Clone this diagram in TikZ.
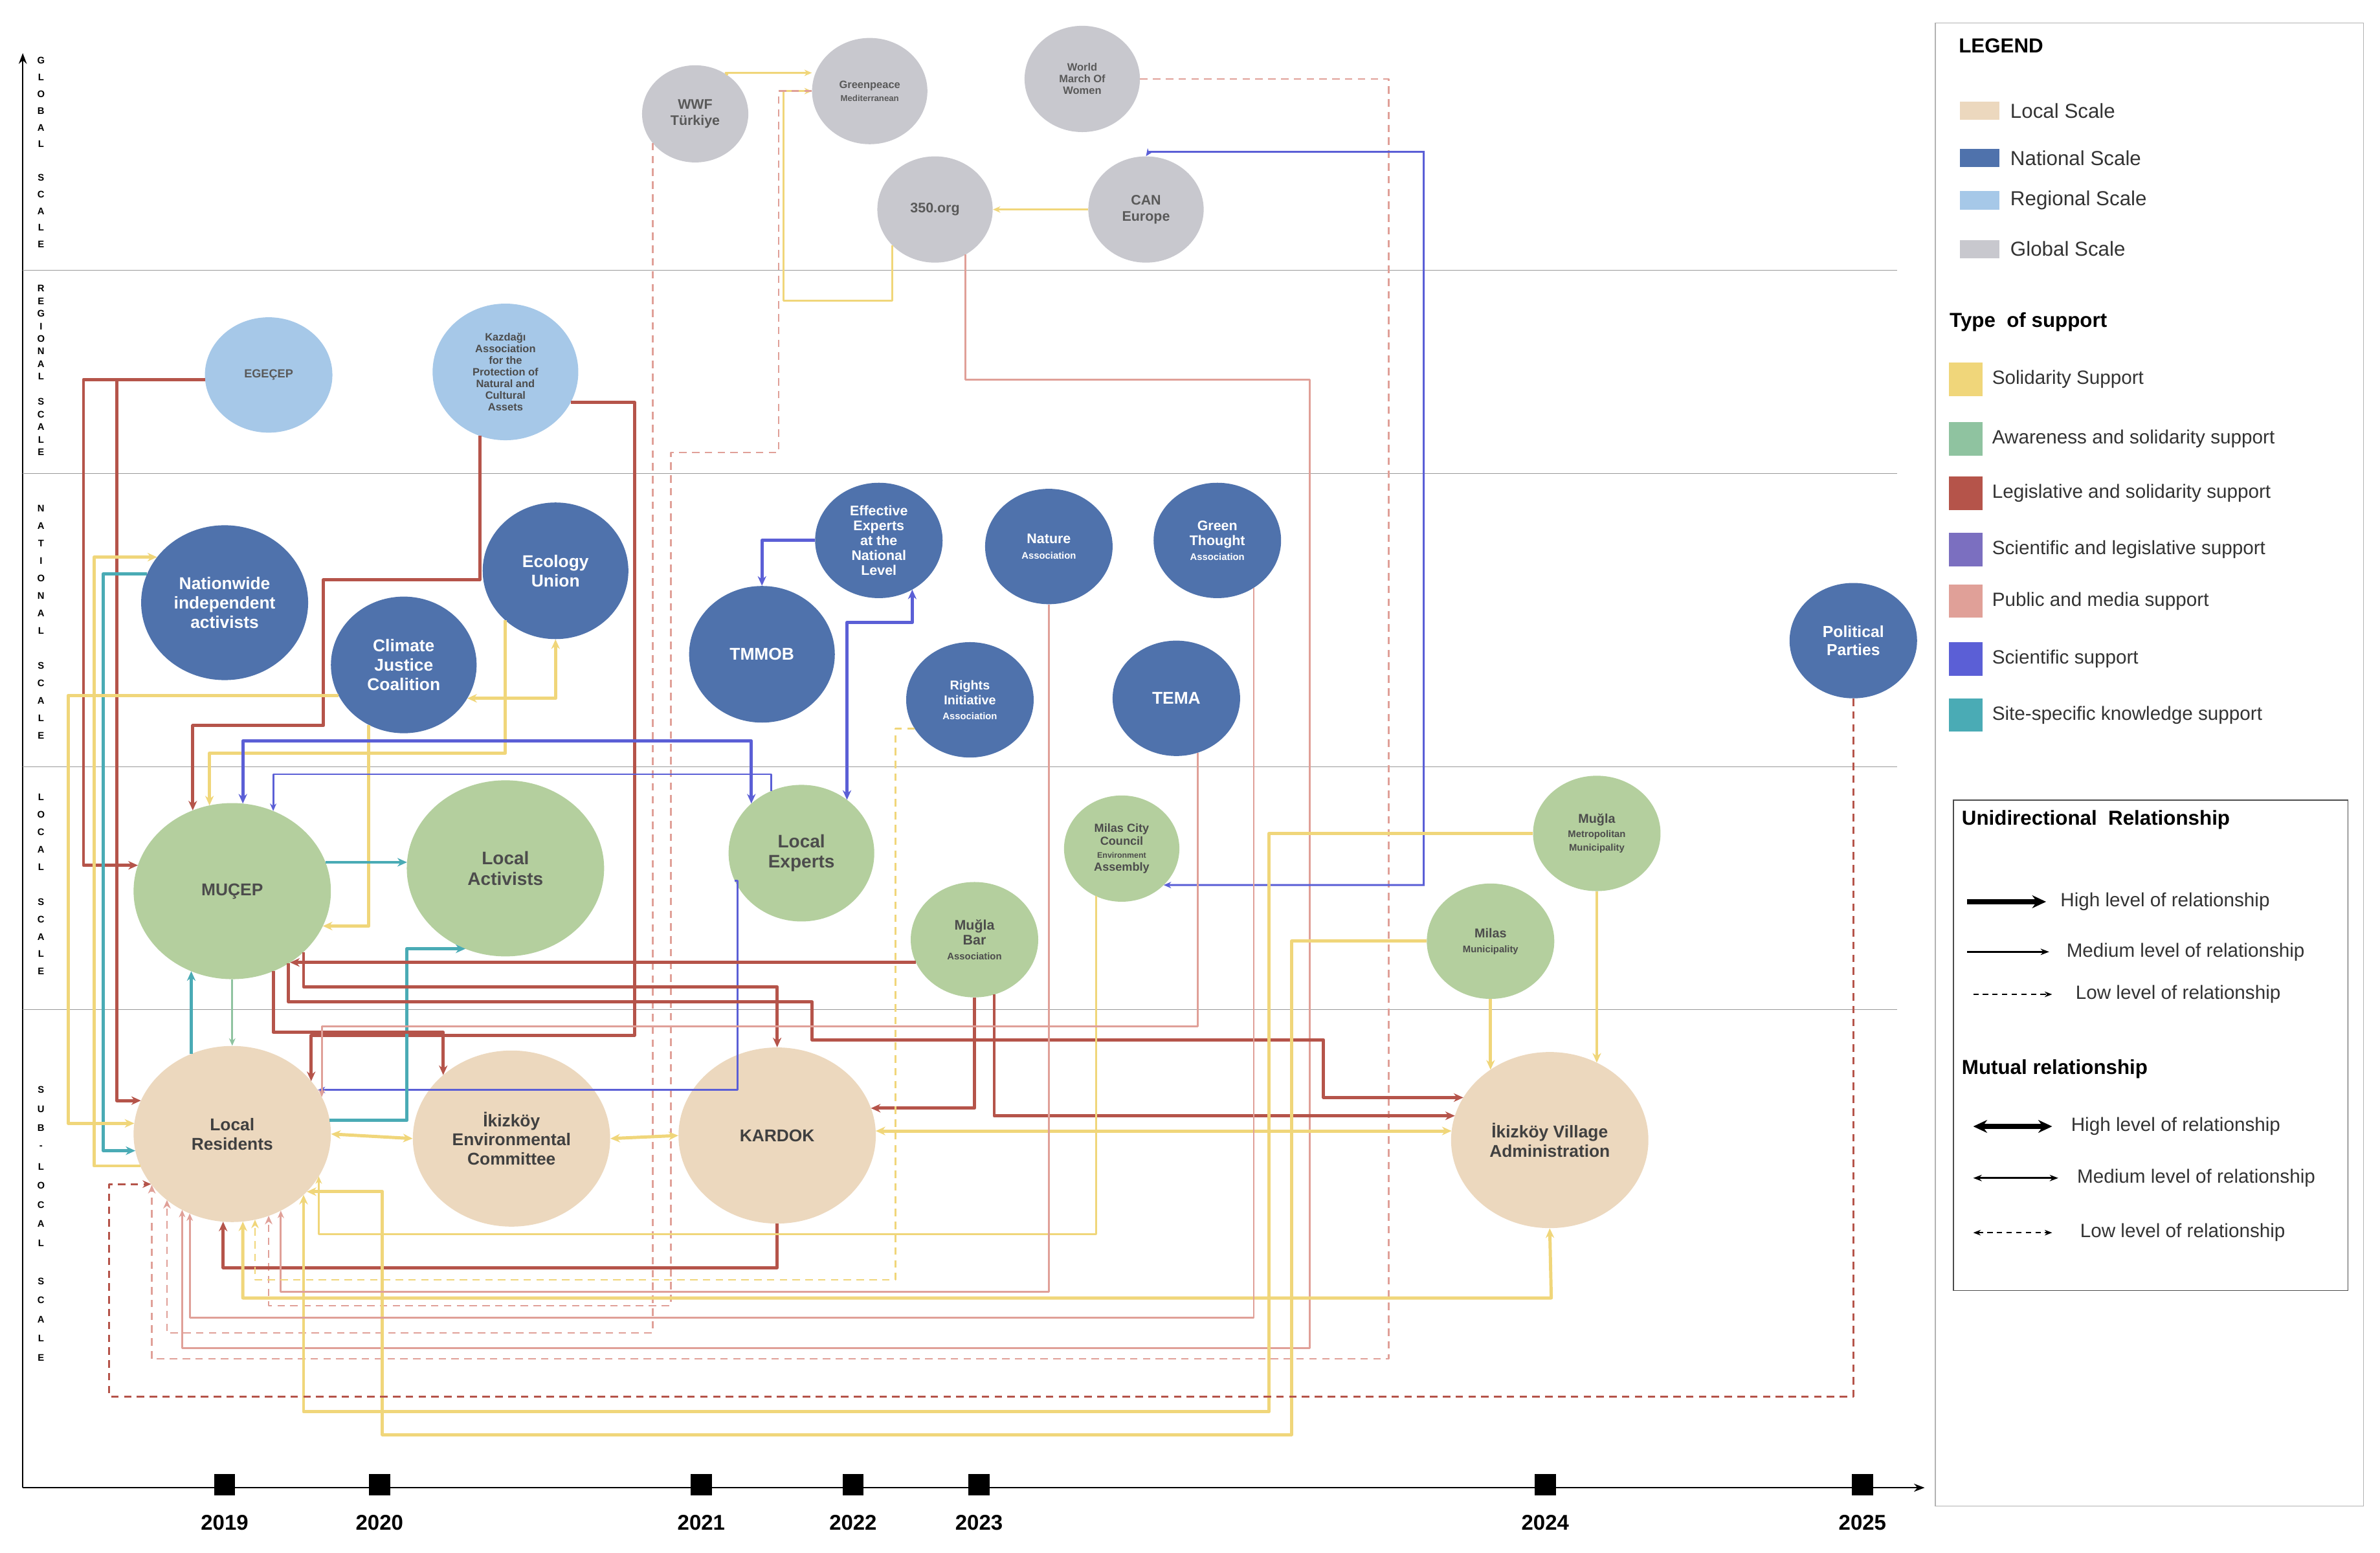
\documentclass[tikz,border=0pt]{standalone}
\usepackage{fontspec}
\setmainfont{Liberation Sans}
\usetikzlibrary{shapes.geometric,arrows.meta}
\definecolor{cglob}{HTML}{C8C8CE}
\definecolor{creg}{HTML}{A6C8E8}
\definecolor{cnat}{HTML}{4F72AC}
\definecolor{cloc}{HTML}{B4CF9E}
\definecolor{csub}{HTML}{ECD8BE}
\definecolor{ysol}{HTML}{F0D67A}
\definecolor{gaw}{HTML}{8FC3A0}
\definecolor{rleg}{HTML}{B5544A}
\definecolor{psl}{HTML}{7B6FC0}
\definecolor{kpm}{HTML}{E0A098}
\definecolor{bsci}{HTML}{5B5FD6}
\definecolor{tsite}{HTML}{4AABB5}
\newcommand{\Nd}[9]{\node[nd,fill=#6,text=#9,minimum width=#4*1mm,minimum height=#5*1mm,font=#8] (#1) at (#2,#3) {#7};}
\newcommand{\EdB}[2]{({#1},{eb(#1,#2)})}
\newcommand{\EdT}[2]{({#1},{et(#1,#2)})}
\newcommand{\EdL}[2]{({el(#1,#2)},{#1})}
\newcommand{\EdR}[2]{({er(#1,#2)},{#1})}
\def\pLR{153,747,65,58}
\def\pMU{153,587,65,58}
\begin{document}
\begin{tikzpicture}[x=0.5mm,y=-0.5mm,
  declare function={
    eb(\x,\cx,\cy,\rx,\ry)=\cy+\ry*sqrt(max(0,1-((\x-\cx)/\rx)^2));
    et(\x,\cx,\cy,\rx,\ry)=\cy-\ry*sqrt(max(0,1-((\x-\cx)/\rx)^2));
    el(\y,\cx,\cy,\rx,\ry)=\cx-\rx*sqrt(max(0,1-((\y-\cy)/\ry)^2));
    er(\y,\cx,\cy,\rx,\ry)=\cx+\rx*sqrt(max(0,1-((\y-\cy)/\ry)^2));},
  nd/.style={ellipse,draw=none,inner sep=0pt,align=center},
  me/.style={line width=3pt,line join=round,-{Stealth[length=9pt,width=8pt]}},
  th/.style={line width=1.8pt,line join=round,-{Stealth[length=7pt,width=6pt]}},
  lo/.style={line width=2pt,line join=round,dash pattern=on 7pt off 5pt,-{Stealth[length=8pt,width=7pt]}},
  mu/.style={line width=3pt,line join=round,{Stealth[length=9pt,width=8pt]}-{Stealth[length=9pt,width=8pt]}},
  lab/.style={anchor=west,font=\fontsize{18}{21}\selectfont,text=black!80},
  sw/.style={minimum width=13mm,minimum height=6mm,inner sep=0pt,anchor=west}]
\useasboundingbox (0,0) rectangle (1568,1023);
% axes
\draw[line width=1.5pt,-{Stealth[length=10pt]}] (15,980) -- (15,35);
\draw[line width=1.5pt,-{Stealth[length=10pt]}] (15,980) -- (1268,980);
\foreach \yy in {178,312,505,665} \draw[black!40,line width=0.8pt] (15,\yy) -- (1250,\yy);
\foreach \t/\a/\b in {{G,L,O,B,A,L,,S,C,A,L,E}/40/11, {R,E,G,I,O,N,A,L,,S,C,A,L,E}/190/8.3, {N,A,T,I,O,N,A,L,,S,C,A,L,E}/335/11.5, {L,O,C,A,L,,S,C,A,L,E}/525/11.5, {S,U,B,-,L,O,C,A,L,,S,C,A,L,E}/718/12.6}{
  \foreach \c [count=\i] in \t {\node[font=\bfseries\fontsize{9}{9}\selectfont] at (27,{\a+(\i-1)*\b}) {\c};}}
\foreach \xx/\yr in {148/2019,250/2020,462/2021,562/2022,645/2023,1018/2024,1227/2025}{
  \fill (\xx-7,971) rectangle (\xx+7,985);
  \node[font=\bfseries\fontsize{20}{22}\selectfont] at (\xx,1003) {\yr};}
% nodes
\Nd{wwf}{458}{75}{35}{32}{cglob}{WWF\\Türkiye}{\bfseries\fontsize{13}{15}\selectfont}{black!65}
\Nd{gp}{573}{60}{38}{35}{cglob}{Greenpeace\\{\fontsize{8}{9}\selectfont Mediterranean}}{\bfseries\fontsize{10}{12}\selectfont}{black!65}
\Nd{wmw}{713}{52}{38}{35}{cglob}{World\\March Of\\Women}{\bfseries\fontsize{10}{11}\selectfont}{black!65}
\Nd{o350}{616}{138}{38}{35}{cglob}{350.org}{\bfseries\fontsize{13}{14}\selectfont}{black!65}
\Nd{can}{755}{138}{38}{35}{cglob}{CAN\\Europe}{\bfseries\fontsize{13}{15}\selectfont}{black!65}
\Nd{ege}{177}{247}{42}{38}{creg}{EGEÇEP}{\bfseries\fontsize{11}{12}\selectfont}{black!65}
\Nd{kaz}{333}{245}{48}{45}{creg}{Kazdağı\\Association\\for the\\Protection of\\Natural and\\Cultural\\Assets}{\bfseries\fontsize{10}{11}\selectfont}{black!70}
\Nd{nia}{148}{397}{55}{51}{cnat}{Nationwide\\independent\\activists}{\bfseries\fontsize{16}{18}\selectfont}{white}
\Nd{cjc}{266}{438}{48}{45}{cnat}{Climate\\Justice\\Coalition}{\bfseries\fontsize{16}{18}\selectfont}{white}
\Nd{eco}{366}{376}{48}{45}{cnat}{Ecology\\Union}{\bfseries\fontsize{16}{18}\selectfont}{white}
\Nd{eff}{579}{356}{42}{38}{cnat}{Effective\\Experts\\at the\\National\\Level}{\bfseries\fontsize{13}{14}\selectfont}{white}
\Nd{tmm}{502}{431}{48}{45}{cnat}{TMMOB}{\bfseries\fontsize{16}{18}\selectfont}{white}
\Nd{ria}{639}{461}{42}{38}{cnat}{Rights\\Initiative\\{\fontsize{9}{10}\selectfont Association}}{\bfseries\fontsize{12}{14}\selectfont}{white}
\Nd{nat}{691}{360}{42}{38}{cnat}{Nature\\{\fontsize{9}{10}\selectfont Association}}{\bfseries\fontsize{13}{15}\selectfont}{white}
\Nd{gta}{802}{356}{42}{38}{cnat}{Green\\Thought\\{\fontsize{9}{10}\selectfont Association}}{\bfseries\fontsize{13}{14}\selectfont}{white}
\Nd{tema}{775}{460}{42}{38}{cnat}{TEMA}{\bfseries\fontsize{16}{18}\selectfont}{white}
\Nd{pp}{1221}{422}{42}{38}{cnat}{Political\\Parties}{\bfseries\fontsize{15}{17}\selectfont}{white}
\Nd{muc}{153}{587}{65}{58}{cloc}{MUÇEP}{\bfseries\fontsize{16}{18}\selectfont}{black!70}
\Nd{lac}{333}{572}{65}{58}{cloc}{Local\\Activists}{\bfseries\fontsize{17}{19}\selectfont}{black!70}
\Nd{lex}{528}{562}{48}{45}{cloc}{Local\\Experts}{\bfseries\fontsize{17}{19}\selectfont}{black!70}
\Nd{mcc}{739}{559}{38}{35}{cloc}{Milas City\\Council\\{\fontsize{7.5}{9}\selectfont Environment}\\Assembly}{\bfseries\fontsize{11}{12}\selectfont}{black!70}
\Nd{bar}{642}{619}{42}{38}{cloc}{Muğla\\Bar\\{\fontsize{9}{10}\selectfont Association}}{\bfseries\fontsize{13}{14}\selectfont}{black!70}
\Nd{mmm}{1052}{549}{42}{38}{cloc}{Muğla\\{\fontsize{9}{10}\selectfont Metropolitan}\\{\fontsize{9}{10}\selectfont Municipality}}{\bfseries\fontsize{12}{13}\selectfont}{black!70}
\Nd{mil}{982}{620}{42}{38}{cloc}{Milas\\{\fontsize{9}{10}\selectfont Municipality}}{\bfseries\fontsize{12}{14}\selectfont}{black!70}
\Nd{lr}{153}{747}{65}{58}{csub}{Local\\Residents}{\bfseries\fontsize{16}{18}\selectfont}{black!75}
\Nd{iec}{337}{750}{65}{58}{csub}{İkizköy\\Environmental\\Committee}{\bfseries\fontsize{16}{18}\selectfont}{black!75}
\Nd{kar}{512}{748}{65}{58}{csub}{KARDOK}{\bfseries\fontsize{16}{18}\selectfont}{black!75}
\Nd{iva}{1021}{751}{65}{58}{csub}{İkizköy Village\\Administration}{\bfseries\fontsize{16}{18}\selectfont}{black!75}
% global edges
\draw[ysol,th] (wwf.50) -- (478,48) -- (gp.west |- 0,48);
\draw[ysol,th] \EdB{588}{616,138,38,35} -- (588,198) -- (516,198) -- (516,60) -- (gp.west);
\draw[ysol,th] (can.west) -- (o350.east);
\draw[kpm,lo,line width=1.5pt] (gp.west) -- (513,60) -- (513,298) -- (442,298) -- (442,860) -- (177,860) -- \EdB{177}{\pLR};
\draw[kpm,lo,line width=1.5pt] \EdB{430}{458,75,35,32} -- (430,878) -- (110,878) -- \EdB{110}{\pLR};
\draw[kpm,lo,line width=1.5pt] (wmw.east) -- (915,52) -- (915,895) -- (100,895) -- \EdB{100}{\pLR};
\draw[kpm,th] \EdB{636}{616,138,38,35} -- (636,250) -- (863,250) -- (863,888) -- (120,888) -- \EdB{120}{\pLR};
\draw[bsci,line width=1.8pt,{Stealth[length=7pt,width=6pt]}-{Stealth[length=7pt,width=6pt]}] \EdR{583}{739,559,38,35} -- (938,583) -- (938,100) -- (757,100) -- (can.north);
% regional
\draw[rleg,me] \EdL{250}{177,247,42,38} -- (55,250) -- (55,570) -- \EdL{570}{\pMU};
\draw[rleg,me] \EdL{250}{177,247,42,38} -- (77,250) -- (77,725) -- \EdL{725}{\pLR};
\draw[rleg,me] \EdR{265}{333,245,48,45} -- (418,265) -- (418,682) -- (205,682) -- \EdT{205}{\pLR};
\draw[rleg,me] \EdB{316}{333,245,48,45} -- (316,382) -- (213,382) -- (213,478) -- (127,478) -- \EdT{127}{\pMU};
% national
\draw[ysol,me] \EdL{768}{\pLR} -- (62,768) -- (62,367) -- \EdL{367}{148,397,55,51};
\draw[tsite,me] \EdL{378}{148,397,55,51} -- (68,378) -- (68,758) -- \EdL{758}{\pLR};
\draw[ysol,me] \EdL{458}{266,438,48,45} -- (45,458) -- (45,740) -- \EdL{740}{\pLR};
\draw[ysol,me] \EdB{243}{266,438,48,45} -- (243,610) -- \EdR{610}{\pMU};
\draw[ysol,mu] \EdR{460}{266,438,48,45} -- (366,460) -- (eco.south);
\draw[ysol,me] \EdB{333}{366,376,48,45} -- (333,496) -- (138,496) -- \EdT{138}{\pMU};
\draw[bsci,mu] \EdT{160}{\pMU} -- (160,488) -- (495,488) -- \EdT{495}{528,562,48,45};
\draw[bsci,th] \EdT{508}{528,562,48,45} -- (508,510) -- (180,510) -- \EdT{180}{\pMU};
\draw[bsci,th] \EdL{580}{528,562,48,45} -- (486,580) -- (486,718) -- \EdR{718}{\pLR};
\draw[bsci,me] \EdL{356}{579,356,42,38} -- (502,356) -- (tmm.north);
\draw[bsci,mu] \EdB{601}{579,356,42,38} -- (601,410) -- (558,410) -- \EdT{558}{528,562,48,45};
% local
\draw[tsite,me] \EdR{568}{\pMU} -- \EdL{568}{333,572,65,58};
\draw[tsite,me] \EdT{126}{\pLR} -- \EdB{126}{\pMU};
\draw[gaw,th] (muc.south) -- (lr.north);
\draw[tsite,me] \EdR{738}{\pLR} -- (268,738) -- (268,625) -- \EdL{625}{333,572,65,58};
\draw[rleg,me] \EdB{180}{\pMU} -- (180,680) -- (292,680) -- \EdT{292}{337,750,65,58};
\draw[rleg,me] \EdB{200}{\pMU} -- (200,650) -- (512,650) -- (kar.north);
\draw[rleg,me] \EdL{634}{642,619,42,38} -- \EdR{634}{\pMU};
\draw[rleg,me] (bar.south) -- (642,730) -- \EdR{730}{512,748,65,58};
\draw[rleg,me] \EdB{655}{642,619,42,38} -- (655,735) -- \EdL{735}{1021,751,65,58};
\draw[rleg,me] \EdB{190}{\pMU} -- (190,660) -- (535,660) -- (535,685) -- (872,685) -- (872,723) -- \EdL{723}{1021,751,65,58};
\draw[rleg,me] (kar.south) -- (512,835) -- (147,835) -- \EdB{147}{\pLR};
% sub-local
\draw[ysol,mu] (lr.east) -- (iec.west);
\draw[ysol,mu] (iec.east) -- (kar.west);
\draw[ysol,mu] \EdR{745}{512,748,65,58} -- \EdL{745}{1021,751,65,58};
\draw[ysol,me] (mmm.south) -- \EdT{1052}{1021,751,65,58};
\draw[ysol,me] (mil.south) -- \EdT{982}{1021,751,65,58};
\draw[ysol,me] (mmm.west) -- (836,549) -- (836,930) -- (200,930) -- \EdB{200}{\pLR};
\draw[ysol,me] (mil.west) -- (851,620) -- (851,945) -- (252,945) -- (252,785) -- \EdR{785}{\pLR};
\draw[ysol,mu] \EdB{160}{\pLR} -- (160,855) -- (1022,855) -- (iva.south);
\draw[ysol,th] \EdB{722}{739,559,38,35} -- (722,813) -- (210,813) -- \EdB{210}{\pLR};
\draw[kpm,th] (nat.south) -- (691,851) -- (185,851) -- \EdB{185}{\pLR};
\draw[kpm,th] \EdB{826}{802,356,42,38} -- (826,868) -- (125,868) -- \EdB{125}{\pLR};
\draw[kpm,th] \EdB{789}{775,460,42,38} -- (789,676) -- (212,676) -- \EdT{212}{\pLR};
\draw[ysol,lo,line width=1.5pt] \EdL{480}{639,461,42,38} -- (590,480) -- (590,843) -- (168,843) -- \EdB{168}{\pLR};
\draw[rleg,lo] (pp.south) -- (1221,920) -- (72,920) -- (72,780) -- \EdL{780}{\pLR};
% legend
\draw[black!30,line width=0.8pt] (1275,15) rectangle (1557,992);
\node[anchor=west,font=\bfseries\fontsize{19}{22}\selectfont] at (1288,30) {LEGEND};
\foreach \c/\t/\yy in {csub/Local Scale/73,cnat/National Scale/104,creg/Regional Scale/132,cglob/Global Scale/164}{
  \node[sw,fill=\c] at (1291,\yy) {}; \node[lab,font=\fontsize{19}{22}\selectfont] at (1322,\yy) {\t};}
\node[anchor=west,font=\bfseries\fontsize{19}{22}\selectfont] at (1282,212) {Type\ \ of support};
\foreach \c/\t/\yy in {ysol/Solidarity Support/250,gaw/Awareness and solidarity support/289,rleg/Legislative and solidarity support/325,psl/Scientific and legislative support/362,kpm/Public and media support/396,bsci/Scientific support/434,tsite/Site-specific knowledge support/471}{
  \node[fill=\c,minimum size=11mm,inner sep=0pt] at (1295,\yy) {}; \node[lab] at (1310,\yy) {\t};}
\draw[black!70,line width=0.8pt] (1287,527) rectangle (1547,850);
\node[anchor=west,font=\bfseries\fontsize{19}{22}\selectfont] at (1290,540) {Unidirectional\ \ Relationship};
\node[anchor=west,font=\bfseries\fontsize{19}{22}\selectfont] at (1290,704) {Mutual relationship};
\coordinate (u1a) at (1296,594); \coordinate (u1b) at (1348,594);
\coordinate (u2a) at (1296,627); \coordinate (u2b) at (1350,627);
\coordinate (u3a) at (1300,655); \coordinate (u3b) at (1352,655);
\coordinate (m1a) at (1300,742); \coordinate (m1b) at (1352,742);
\coordinate (m2a) at (1300,776); \coordinate (m2b) at (1356,776);
\coordinate (m3a) at (1300,812); \coordinate (m3b) at (1352,812);
\draw[line width=4.5pt,-{Stealth[length=13pt,width=12pt]}] (u1a) -- (u1b);
\draw[line width=1.8pt,-{Stealth[length=8pt]}] (u2a) -- (u2b);
\draw[line width=1.5pt,dash pattern=on 5pt off 4pt,-{Stealth[length=7pt]}] (u3a) -- (u3b);
\draw[line width=4.5pt,{Stealth[length=13pt,width=12pt]}-{Stealth[length=13pt,width=12pt]}] (m1a) -- (m1b);
\draw[line width=1.8pt,{Stealth[length=8pt]}-{Stealth[length=8pt]}] (m2a) -- (m2b);
\draw[line width=1.5pt,dash pattern=on 5pt off 4pt,{Stealth[length=7pt]}-{Stealth[length=7pt]}] (m3a) -- (m3b);
\foreach \xx/\yy/\t in {1355/594/High,1359/627/Medium,1365/655/Low,1362/742/High,1366/776/Medium,1368/812/Low}
  \node[lab] at (\xx,\yy) {\t{} level of relationship};
\end{tikzpicture}
\end{document}
